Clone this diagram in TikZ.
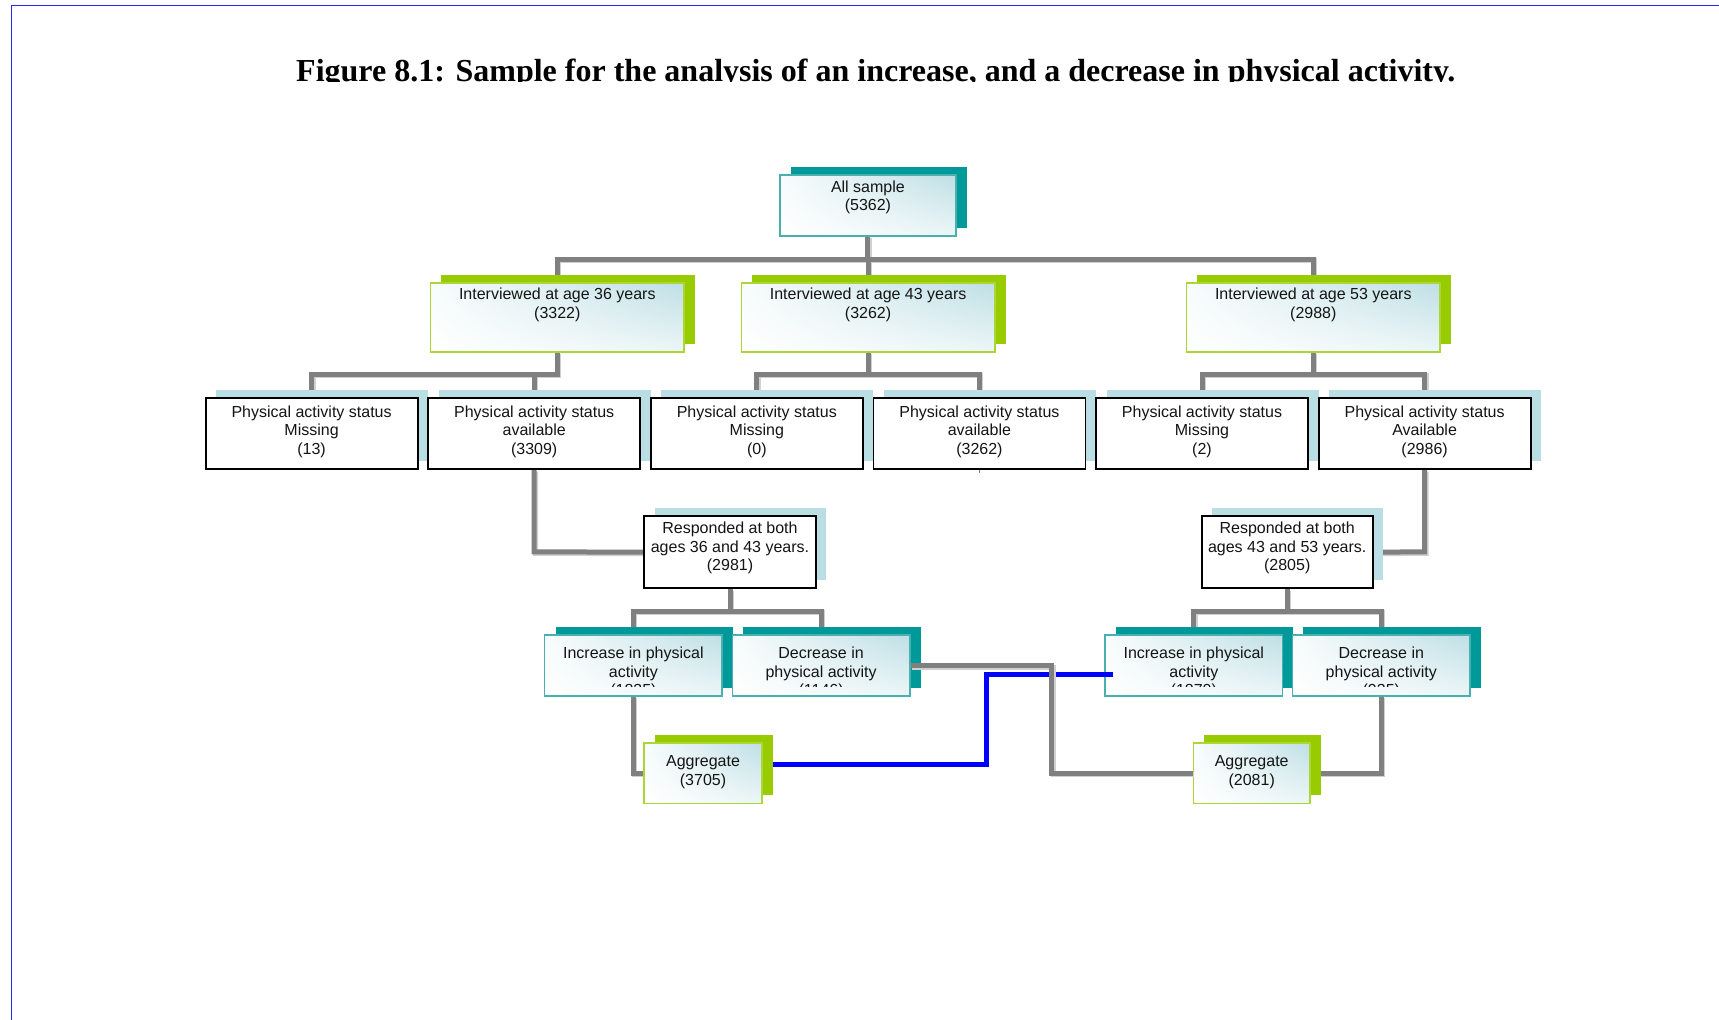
\documentclass[tikz,border=0pt]{standalone}
\usepackage{fontspec}
\setmainfont{Liberation Sans}
\newfontfamily\titlefont{Liberation Serif}
\usetikzlibrary{shadows,shadings}

\definecolor{tealdark}{RGB}{0,153,153}
\definecolor{tealedge}{RGB}{72,176,176}
\definecolor{greendark}{RGB}{153,204,0}
\definecolor{greenedge}{RGB}{172,214,52}
\definecolor{paleblue}{RGB}{185,222,228}
\definecolor{connc}{RGB}{128,128,128}
\definecolor{connshade}{RGB}{208,208,208}
\definecolor{framec}{RGB}{40,40,235}
\definecolor{linkblue}{RGB}{0,0,255}
\definecolor{glowc}{RGB}{190,223,229}
\definecolor{glowlow}{RGB}{236,246,247}
\definecolor{glowleft}{RGB}{248,252,252}
\definecolor{textc}{RGB}{20,20,20}

\pgfdeclarelayer{paper}
\pgfdeclarelayer{links}
\pgfsetlayers{paper,links,main}

\tikzset{
  boxfill/.style={shade, upper right=glowc, upper left=glowleft,
    lower left=white, lower right=glowlow},
  tealbox/.style={boxfill, draw=tealedge, line width=1.6pt,
    general shadow={fill=tealdark, shadow xshift=10.9pt, shadow yshift=7.7pt}},
  greenbox/.style={boxfill, draw=greenedge, line width=1.6pt,
    general shadow={fill=greendark, shadow xshift=10.8pt, shadow yshift=8pt}},
  plainbox/.style={fill=white, draw=black, line width=1.8pt,
    general shadow={fill=paleblue, shadow xshift=10.5pt, shadow yshift=8pt}},
  conn/.style={line width=5pt},
  lbl/.style={align=center, inner sep=0pt,
    font=\fontsize{16}{18.5}\selectfont, text=textc},
}

% box: name, style, centre x, centre y, width, height, text drop, text
\newcommand\putbox[8]{%
  \node[#2, minimum width=#5pt, minimum height=#6pt, inner sep=0pt] (#1) at (#3,#4) {};
  \node[lbl, anchor=north] (#1-txt) at ([yshift=-#7pt]#1.north) {\strut #8};
}
% same, with the text cut off at a given depth below the top edge
\newcommand\putcutbox[9]{%
  \node[#2, minimum width=#5pt, minimum height=#6pt, inner sep=0pt] (#1) at (#3,#4) {};
  \begin{scope}
    \clip ([xshift=-4pt]#1.north west) rectangle ([xshift=4pt,yshift=-#9pt]#1.north east);
    \node[lbl, anchor=north] (#1-txt) at ([yshift=-#7pt]#1.north) {\strut #8};
  \end{scope}
}

% tree connectors (drawn twice: soft offset copy, then the grey line)
\newcommand\treelinks{%
  \draw (top.south) -- (top.south |- lvA) -| (i36.north);
  \draw (top.south) -- (top.south |- lvA) -| (i43.north);
  \draw (top.south) -- (top.south |- lvA) -| (i53.north);
  \draw (i36.south) -- (i36.south |- lvB) -| (s1.north);
  \draw (i36.south) -- (i36.south |- lvB) -| (s2.north);
  \draw (i43.south) -- (i43.south |- lvB) -| (s3.north);
  \draw (i43.south) -- (i43.south |- lvB) -| (s4.north);
  \draw (i53.south) -- (i53.south |- lvB) -| (s5.north);
  \draw (i53.south) -- (i53.south |- lvB) -| (s6.north);
  \draw (s2.south) -- (s2.south |- lvC) -- (r1.west);
  \draw (s6.south) -- (s6.south |- lvC) -- (r2.east);
  \draw (r1.south) -- (r1.south |- lvD) -| (inc1.north);
  \draw (r1.south) -- (r1.south |- lvD) -| (dec1.north);
  \draw (r2.south) -- (r2.south |- lvD) -| (inc2.north);
  \draw (r2.south) -- (r2.south |- lvD) -| (dec2.north);
  \draw (inc1.south) |- (agg1.west);
  \draw (dec2.south) |- (agg2.east);
}

\begin{document}
\begin{tikzpicture}[x=1pt, y=-1pt]
\useasboundingbox (0,0) rectangle (1719,1020);
\begin{pgfonlayer}{paper}
  \fill[white] (0,0) rectangle (1719,1020);
\end{pgfonlayer}

% page frame
\draw[framec, line width=1.5pt] (1719,5.5) -- (11.3,5.5) -- (11.3,1020);

% heading, cut at its baseline
\begin{scope}
  \clip (0,0) rectangle (1719,81.8);
  \node[anchor=base west, inner sep=0pt,
        font=\titlefont\bfseries\fontsize{32}{36}\selectfont] (title) at (296,81.3)
    {Figure 8.1: Sample for the analysis of an increase, and a decrease in physical activity.};
\end{scope}

% levels of the connector bars
\coordinate (lvA) at (0,259);
\coordinate (lvB) at (0,374);
\coordinate (lvC) at (0,551.8);
\coordinate (lvD) at (0,611.3);

% whole sample
\putbox{top}{tealbox}{867.9}{205.4}{175.7}{60.7}{5}{All sample\\(5362)}

% interview waves
\putbox{i36}{greenbox}{557.3}{317.2}{253.4}{69}{4.8}{Interviewed at age 36 years\\(3322)}
\putbox{i43}{greenbox}{868.1}{317.2}{253.4}{69}{4.8}{Interviewed at age 43 years\\(3262)}
\putbox{i53}{greenbox}{1313.3}{317.2}{253.4}{69}{4.8}{Interviewed at age 53 years\\(2988)}

% activity status
\putbox{s1}{plainbox}{311.6}{433.8}{212}{71}{6.6}{Physical activity status\\Missing\\(13)}
\putbox{s2}{plainbox}{534.2}{433.8}{212}{71}{6.6}{Physical activity status\\available\\(3309)}
\putbox{s3}{plainbox}{756.8}{433.8}{212}{71}{6.6}{Physical activity status\\Missing\\(0)}
\putbox{s4}{plainbox}{979.4}{433.8}{212}{71}{6.6}{Physical activity status\\available\\(3262)}
\putbox{s5}{plainbox}{1202}{433.8}{212}{71}{6.6}{Physical activity status\\Missing\\(2)}
\putbox{s6}{plainbox}{1424.6}{433.8}{212}{71}{6.6}{Physical activity status\\Available\\(2986)}
\draw[connc, line width=1.5pt] (s4.south) -- ++(0,3);

% responded at both ages
\putbox{r1}{plainbox}{730}{552.2}{171.4}{72.3}{5.2}{Responded at both\\ages 36 and 43 years.\\(2981)}
\putbox{r2}{plainbox}{1287.2}{552.2}{171}{72.3}{5.2}{Responded at both\\ages 43 and 53 years.\\(2805)}

% change in activity
\putcutbox{inc1}{tealbox}{633.4}{665.5}{177.5}{61}{11.2}{Increase in physical\\activity\\(1835)}{52.3}
\putcutbox{dec1}{tealbox}{821.1}{665.5}{177.5}{61}{11.2}{Decrease in\\physical activity\\(1146)}{52.3}
\putcutbox{inc2}{tealbox}{1193.8}{665.5}{177.5}{61}{11.2}{Increase in physical\\activity\\(1870)}{52.3}
\putcutbox{dec2}{tealbox}{1381.3}{665.5}{177.5}{61}{11.2}{Decrease in\\physical activity\\(935)}{52.3}

% aggregates
\putbox{agg1}{greenbox}{703}{773}{117.5}{60.6}{11.5}{Aggregate\\(3705)}
\putbox{agg2}{greenbox}{1251.7}{773}{116.7}{60.6}{11.5}{Aggregate\\(2081)}

% tree connectors behind the boxes
\begin{pgfonlayer}{links}
  \begin{scope}[conn, draw=connshade, transform canvas={shift={(1.5pt,-1.5pt)}}]
    \treelinks
  \end{scope}
  \begin{scope}[conn, draw=connc]
    \treelinks
  \end{scope}
\end{pgfonlayer}

% cross links between the two halves
\coordinate (agg1sh) at ([xshift=10.6pt,yshift=8.4pt]agg1.east);
\coordinate (blueBend) at (986,674);
\coordinate (blueEnd) at ([xshift=8.3pt,yshift=-8.5pt]inc2.west);
\draw[linkblue, conn] (agg1sh) -| (blueBend) -- (blueEnd);

\coordinate (greyBend) at (1051.5,773);
\draw[connshade, conn, transform canvas={shift={(1.5pt,-1.5pt)}}] (dec1.east) -| (greyBend) -- (agg2.west);
\draw[connc, conn] (dec1.east) -| (greyBend) -- (agg2.west);
\end{tikzpicture}
\end{document}
